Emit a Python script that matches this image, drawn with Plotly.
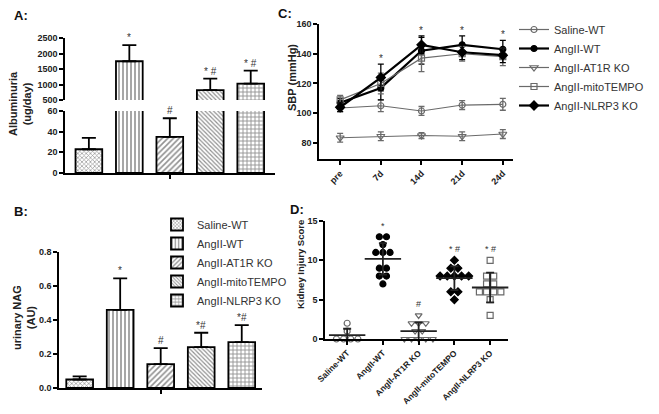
import plotly.graph_objects as go

W, H = 659, 414

groups = ['Saline-WT', 'AngII-WT', 'AngII-AT1R KO', 'AngII-mitoTEMPO', 'AngII-NLRP3 KO']

# A: albuminuria (ug/day), mean and upper SEM
alb_mean = [23, 1750, 35, 820, 1030]
alb_err = [11, 520, 18, 370, 420]
alb_sig = ['', '*', '#', '* #', '* #']

# B: urinary NAG (AU)
nag_mean = [0.05, 0.46, 0.14, 0.24, 0.27]
nag_err = [0.018, 0.185, 0.095, 0.085, 0.10]
nag_sig = ['', '*', '#', '*#', '*#']

# C: SBP (mmHg) over time
days = ['pre', '7d', '14d', '21d', '24d']
sbp_saline = [103.5, 105, 101.5, 105.5, 106]
sbp_saline_err = [2.5, 4, 3, 3, 4]
sbp_angwt = [107, 117, 142, 146, 143]
sbp_angwt_err = [3, 8, 9, 6, 6]
sbp_at1r = [83.5, 84.5, 85, 84.5, 86]
sbp_at1r_err = [3, 3, 2, 3, 3]
sbp_mito = [109, 120, 137, 140, 138]
sbp_mito_err = [3, 7, 9, 5, 6]
sbp_nlrp3 = [104, 124, 146, 141, 139]
sbp_nlrp3_err = [3, 9, 6, 5, 5]
sbp_sig = ['', '*', '*', '*', '*']

# D: kidney injury score, individual animals
kis_saline = [0, 0, 0, 0, 1, 2]
kis_angwt = [13, 13, 12, 11, 11, 11, 9, 9, 8, 8, 7]
kis_at1r = [3, 2, 2, 2, 1, 1, 0, 0, 0, 0, 0]
kis_mito = [10, 9, 9, 8, 8, 8, 8, 8, 6, 6, 5]
kis_nlrp3 = [10, 8, 8, 7, 7, 6, 6, 6, 6, 5, 3]
kis_sd = [0.8, 2.0, 1.1, 1.5, 1.9]
kis_sig = ['', '*', '#', '* #', '* #']

patterns = ['x', '|', '/', '\\', '+']
pattern_sizes = [3, 4, 4, 3, 4]

FONT = 'Arial'
BOLD = dict(family=FONT, size=9, color='#222', weight='bold')


def dom_x(a, b):
    return [a / W, b / W]


def dom_y(top, bottom):
    return [1 - bottom / H, 1 - top / H]


def axis(**kw):
    base = dict(showline=True, linecolor='black', linewidth=1.5, ticks='outside',
                ticklen=4, tickwidth=1.5, tickcolor='black', showgrid=False,
                zeroline=False, tickfont=BOLD, fixedrange=True, automargin=False)
    base.update(kw)
    return base


fig = go.Figure()
xs = list(range(len(groups)))


def bar_trace(y, err, xa, ya):
    return go.Bar(
        x=xs, y=y, xaxis=xa, yaxis=ya, width=0.66,
        marker=dict(color='white', line=dict(color='black', width=1.8),
                    pattern=dict(shape=patterns, fgcolor='#222', bgcolor='white',
                                 size=pattern_sizes, solidity=0.4)),
        error_y=dict(type='data', symmetric=False, array=err,
                     arrayminus=[0] * len(err), color='black', thickness=1.8, width=7),
        showlegend=False, hoverinfo='skip')


# A: broken axis, same bars drawn into two segments
fig.add_trace(bar_trace(alb_mean, alb_err, 'x', 'y'))
fig.add_trace(bar_trace(alb_mean, alb_err, 'x', 'y2'))

# B: bars, one trace per group so the legend shows each pattern
for i, g in enumerate(groups):
    fig.add_trace(go.Bar(
        x=[i], y=[nag_mean[i]], xaxis='x4', yaxis='y4', width=0.66, name=g,
        legend='legend2',
        marker=dict(color='white', line=dict(color='black', width=1.8),
                    pattern=dict(shape=patterns[i], fgcolor='#222', bgcolor='white',
                                 size=pattern_sizes[i], solidity=0.4)),
        error_y=dict(type='data', symmetric=False, array=[nag_err[i]], arrayminus=[0],
                     color='black', thickness=1.8, width=7),
        hoverinfo='skip'))

# C: SBP lines
c_series = [
    (groups[0], sbp_saline, sbp_saline_err, '#6a6a6a', 'circle-open', 6, 1.2),
    (groups[1], sbp_angwt, sbp_angwt_err, 'black', 'circle', 6, 2.2),
    (groups[2], sbp_at1r, sbp_at1r_err, '#6a6a6a', 'triangle-down-open', 7, 1.2),
    (groups[3], sbp_mito, sbp_mito_err, '#6a6a6a', 'square-open', 6, 1.2),
    (groups[4], sbp_nlrp3, sbp_nlrp3_err, 'black', 'diamond', 7, 2.2),
]
for name, vals, errs, col, sym, sz, lw in c_series:
    fig.add_trace(go.Scatter(
        x=list(range(len(days))), y=vals, xaxis='x3', yaxis='y3', name=name,
        mode='lines+markers', legend='legend',
        line=dict(color=col, width=lw),
        marker=dict(symbol=sym, size=sz, color=col, line=dict(color=col, width=1.2)),
        error_y=dict(type='data', array=errs, color=col, thickness=1.3, width=3),
        hoverinfo='skip'))

# D: scatter of individual scores with mean +/- SD
d_sets = [kis_saline, kis_angwt, kis_at1r, kis_mito, kis_nlrp3]
d_style = [('circle-open', '#6a6a6a'), ('circle', 'black'), ('triangle-down-open', '#6a6a6a'),
           ('diamond', 'black'), ('square-open', '#6a6a6a')]
for gi, vals in enumerate(d_sets):
    px, py = [], []
    for v in sorted(set(vals), reverse=True):
        n = vals.count(v)
        for k in range(n):
            px.append(gi + (k - (n - 1) / 2) * 0.2)
            py.append(v)
    sym, col = d_style[gi]
    fig.add_trace(go.Scatter(
        x=px, y=py, xaxis='x5', yaxis='y5', mode='markers', showlegend=False,
        cliponaxis=False,
        marker=dict(symbol=sym, size=6, color=col, line=dict(color=col, width=1.2)),
        hoverinfo='skip'))
    mean = sum(vals) / len(vals)
    fig.add_trace(go.Scatter(
        x=[gi], y=[mean], xaxis='x5', yaxis='y5', mode='markers', showlegend=False,
        cliponaxis=False,
        marker=dict(symbol='line-ew', size=26, color='#222', line=dict(color='#222', width=1.8)),
        error_y=dict(type='data', array=[kis_sd[gi]], color='#222', thickness=1.8, width=4),
        hoverinfo='skip'))

ann = []
sig_font = dict(family=FONT, size=10, color='#333')
for i in xs:
    if alb_sig[i]:
        top = alb_mean[i] + alb_err[i]
        ann.append(dict(x=i, y=top, xref='x', yref='y2' if alb_mean[i] > 60 else 'y',
                        text=alb_sig[i], showarrow=False, yanchor='bottom', font=sig_font))
    if nag_sig[i]:
        ann.append(dict(x=i, y=nag_mean[i] + nag_err[i], xref='x4', yref='y4',
                        text=nag_sig[i], showarrow=False, yanchor='bottom', font=sig_font))
    if kis_sig[i]:
        ann.append(dict(x=i, y=max(d_sets[i]), xref='x5', yref='y5', yshift=4,
                        text=kis_sig[i], showarrow=False, yanchor='bottom',
                        font=dict(family=FONT, size=9, color='#333')))
for j, s in enumerate(sbp_sig):
    if s:
        top = max(v[j] + e[j] for _, v, e, *_ in c_series)
        ann.append(dict(x=j, y=top, xref='x3', yref='y3', text=s, showarrow=False,
                        yanchor='bottom', yshift=-2, font=sig_font))

# panel letters and y-axis titles, placed in page pixels
title_font = dict(family=FONT, size=11, color='#222', weight='bold')
lab_font = dict(family=FONT, size=13, color='#111', weight='bold')
paper_text = [
    (12, 15, 'A:', lab_font, 0),
    (12, 211, 'B:', lab_font, 0),
    (276, 13, 'C:', lab_font, 0),
    (288, 209, 'D:', lab_font, 0),
    (20, 104, 'Albuminuria<br>(ug/day)', title_font, -90),
    (24, 318, 'urinary NAG<br>(AU)', title_font, -90),
    (292, 78, 'SBP (mmHg)', title_font, -90),
    (300, 265, 'Kidney Injury Score', dict(family=FONT, size=9.5, color='#222', weight='bold'), -90),
]
for x, y, t, f, ang in paper_text:
    ann.append(dict(x=x / W, y=1 - y / H, xref='paper', yref='paper', text=t, font=f,
                    textangle=ang, showarrow=False, yanchor='middle',
                    xanchor='left' if ang == 0 else 'center'))

fig.update_layout(
    width=W, height=H, margin=dict(l=0, r=0, t=0, b=0, autoexpand=False),
    paper_bgcolor='white', plot_bgcolor='white',
    font=dict(family=FONT, color='#222'),
    barmode='overlay',
    xaxis=axis(domain=dom_x(65, 275), range=[-0.59, 4.6], tickvals=[2], ticktext=[''],
               anchor='y'),
    yaxis=axis(domain=dom_y(111, 173), range=[0, 60], tickvals=[0, 20, 40, 60], anchor='x'),
    yaxis2=axis(domain=dom_y(38, 100), range=[500, 2500],
                tickvals=[500, 1000, 1500, 2000, 2500], anchor='x'),
    xaxis3=axis(domain=dom_x(319, 513), range=[-0.52, 4.25], tickvals=list(range(5)),
                ticktext=days, tickangle=-45, anchor='y3'),
    yaxis3=axis(domain=dom_y(24, 159), range=[69.2, 160], tickvals=[80, 100, 120, 140, 160],
                anchor='x3'),
    xaxis4=axis(domain=dom_x(59, 262), range=[-0.51, 4.5], tickvals=[2], ticktext=[''],
                anchor='y4'),
    yaxis4=axis(domain=dom_y(252, 388), range=[0, 0.8], tickvals=[0, 0.2, 0.4, 0.6, 0.8],
                tickformat='.1f', anchor='x4'),
    xaxis5=axis(domain=dom_x(325, 508), range=[-0.62, 4.5], tickvals=list(range(5)),
                ticktext=groups, tickangle=-45, anchor='y5',
                tickfont=dict(family=FONT, size=8.5, color='#222', weight='bold')),
    yaxis5=axis(domain=dom_y(221, 339), range=[0, 15], tickvals=[0, 5, 10, 15], anchor='x5',
                tickfont=dict(family=FONT, size=9, color='#222', weight='bold')),
    legend=dict(x=514 / W, y=1 - 15 / H, xanchor='left', yanchor='top', itemwidth=30,
                font=dict(family=FONT, size=11, color='#333'), bgcolor='rgba(0,0,0,0)',
                tracegroupgap=0),
    legend2=dict(x=157 / W, y=1 - 210 / H, xanchor='left', yanchor='top', itemwidth=30,
                 font=dict(family=FONT, size=11, color='#333'), bgcolor='rgba(0,0,0,0)'),
    annotations=ann,
    showlegend=True,
)

# drop the default page margin so the figure sits at the window's top-left corner
fig.write_html("out.html", config={'displayModeBar': False},
               post_script="document.body.style.margin='0';")
